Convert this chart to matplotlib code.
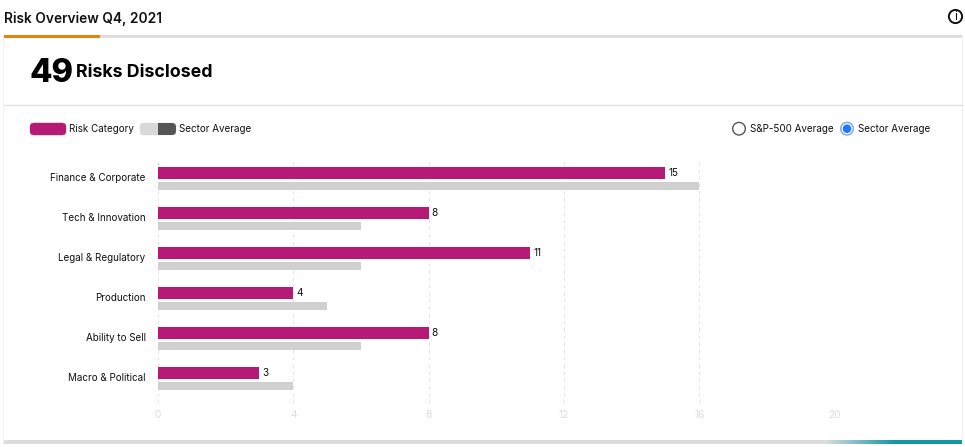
import numpy as np
import matplotlib
matplotlib.use("Agg")
import matplotlib.pyplot as plt
from matplotlib.patches import Rectangle, FancyBboxPatch, Circle
from matplotlib.colors import LinearSegmentedColormap

categories = ["Finance & Corporate", "Tech & Innovation", "Legal & Regulatory",
              "Production", "Ability to Sell", "Macro & Political"]
risk_values = [15, 8, 11, 4, 8, 3]
sector_values = [16, 6, 6, 5, 6, 4]
x_ticks = [0, 4, 8, 12, 16, 20]

PINK = "#B51A76"
GREY = "#D0D0D0"
DARK = "#111111"
W, H = 965, 447
plt.rcParams["font.family"] = ["Inter", "DejaVu Sans"]

fig = plt.figure(figsize=(W / 100, H / 100), dpi=100, facecolor="white")

# page chrome in pixel coordinates
bg = fig.add_axes([0, 0, 1, 1], zorder=0)
bg.set_xlim(0, W)
bg.set_ylim(H, 0)
bg.axis("off")
bg.add_patch(Rectangle((3, 35), 960, 409, fc="#F1F1F1", ec="none"))
bg.add_patch(Rectangle((4, 38), 958, 402, fc="white", ec="none"))
bg.add_patch(Rectangle((4, 35), 958, 3, fc="#DEDEDE", ec="none"))
bg.add_patch(Rectangle((4, 35), 96, 3, fc="#E8820C", ec="none"))
bg.add_patch(Rectangle((4, 440), 958, 4, fc="#DCDCDC", ec="none"))
cmap = LinearSegmentedColormap.from_list("t", ["#DCDCDC", "#1499A3", "#1499A3"])
bg.imshow(np.linspace(0, 1, 200)[None, :], extent=(825, 962, 444, 440), cmap=cmap,
          aspect="auto", zorder=2)
bg.set_xlim(0, W)
bg.set_ylim(H, 0)
bg.plot([4, 962], [104.5, 104.5], color="#E2E2E2", lw=1)

bg.text(3.5, 19, "Risk Overview Q4, 2021", fontsize=9.9, fontweight="semibold",
        color=DARK, va="center", ha="left")
bg.text(29.5, 73.5, "49", fontsize=23.5, fontweight="extra bold", color="black", va="center", ha="left")
bg.text(76, 72.5, "Risks Disclosed", fontsize=12.8, fontweight="bold", color="black",
        va="center", ha="left")

# info icon
bg.add_patch(Circle((955.5, 16.5), 6.6, fc="white", ec="#111111", lw=1.4))
bg.text(955.5, 16.7, "i", fontsize=8.5, color="#111111", va="center", ha="center")

# legend
bg.add_patch(FancyBboxPatch((30, 123), 36, 12, boxstyle="round,pad=0,rounding_size=4",
                            fc=PINK, ec=PINK, lw=0.3, mutation_aspect=1))
bg.text(69, 129, "Risk Category", fontsize=7.1, color=DARK, va="center", ha="left")
bg.add_patch(FancyBboxPatch((140, 123), 36, 12, boxstyle="round,pad=0,rounding_size=4",
                            fc="#D9D9D9", ec="#D9D9D9", lw=0.3))
clip = FancyBboxPatch((140, 123), 36, 12, boxstyle="round,pad=0,rounding_size=4",
                      fc="none", ec="none", transform=bg.transData)
bg.add_patch(clip)
dark = Rectangle((158, 122), 19, 14, fc="#555555", ec="none")
bg.add_patch(dark)
dark.set_clip_path(clip)
bg.text(179, 129, "Sector Average", fontsize=7.1, color=DARK, va="center", ha="left")

# radios
bg.add_patch(Circle((739, 128.7), 6.3, fc="white", ec="#555555", lw=1))
bg.text(750.5, 129, "S&P-500 Average", fontsize=7.1, color=DARK, va="center", ha="left")
bg.add_patch(Circle((847, 128.7), 6.3, fc="white", ec="#6FA6F5", lw=1))
bg.add_patch(Circle((847, 128.7), 4.3, fc="#1F78FF", ec="none"))
bg.text(858.5, 129, "Sector Average", fontsize=7.1, color=DARK, va="center", ha="left")

# chart
x0, x1, y0, y1 = 158, 834.5, 157, 403
ax = fig.add_axes([x0 / W, 1 - y1 / H, (x1 - x0) / W, (y1 - y0) / H], zorder=1)
ax.patch.set_alpha(0)
ax.set_xlim(0, 20)
ax.set_ylim(5.65, -0.5)
for s in ax.spines.values():
    s.set_visible(False)
ypos = np.arange(len(categories))
ax.xaxis.grid(True, color="#E2E2E2", lw=0.8, linestyle=(0, (2.5, 4)))
ax.set_axisbelow(True)
ax.barh(ypos - 0.1, risk_values, height=0.3, color=PINK, zorder=3)
ax.barh(ypos + 0.225, sector_values, height=0.2, color=GREY, zorder=3)
for y, v in zip(ypos, risk_values):
    ax.annotate(str(v), (v, y - 0.1), xytext=(2.3, 0), textcoords="offset points",
                fontsize=7.2, color=DARK, va="center", ha="left")
ax.set_yticks(ypos, categories, fontsize=7.1, color=DARK)
ax.set_xticks(x_ticks, [str(t) for t in x_ticks], fontsize=7.2, color="#DDDDDD")
ax.tick_params(axis="both", length=0)
ax.tick_params(axis="y", pad=9)
ax.tick_params(axis="x", pad=5)

fig.savefig("out.png", dpi=100)
